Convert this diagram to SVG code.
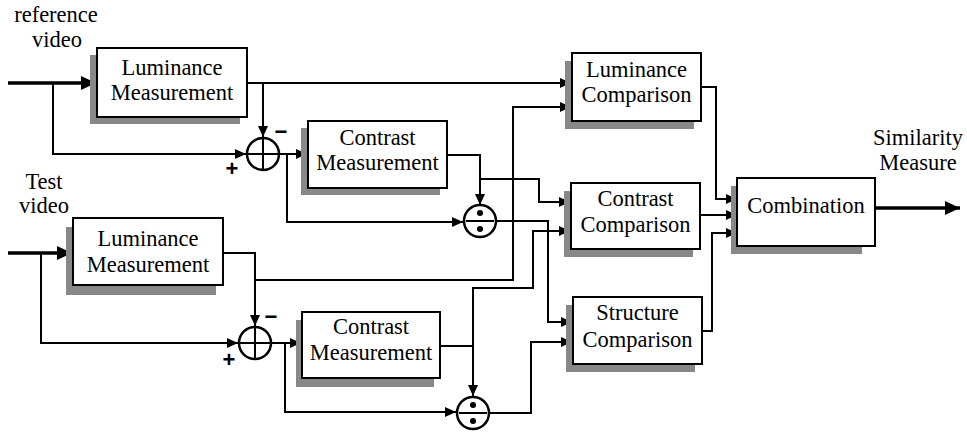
<svg xmlns="http://www.w3.org/2000/svg" width="967" height="432" viewBox="0 0 967 432">
<style>
.box{fill:#fff;stroke:#000;stroke-width:2}
.sh{fill:#888}
.t{font-family:"Liberation Serif","Times New Roman",serif;font-size:22.5px;text-anchor:middle;fill:#000}
.w{fill:none;stroke:#000;stroke-width:2}
.th{fill:none;stroke:#000;stroke-width:3.5}
.c{fill:#fff;stroke:#000;stroke-width:2.5}
.sg{font-family:"Liberation Sans",Arial,sans-serif;font-size:22px;font-weight:bold;text-anchor:middle;fill:#000}
</style>
<defs>
<marker id="a" markerUnits="userSpaceOnUse" markerWidth="12" markerHeight="12" refX="11" refY="6" orient="auto">
<path d="M0,1 L11,6 L0,11 Z" fill="#000"/>
</marker>
<marker id="b" markerUnits="userSpaceOnUse" markerWidth="16" markerHeight="16" refX="15" refY="8" orient="auto">
<path d="M0,1 L15,8 L0,15 Z" fill="#000"/>
</marker>
</defs>
<rect width="967" height="432" fill="#fff"/>

<g id="labels">
<text class="t" x="56" y="22">reference</text>
<text class="t" x="57" y="47">video</text>
<text class="t" x="44" y="189">Test</text>
<text class="t" x="44" y="213">video</text>
<text class="t" x="918" y="145">Similarity</text>
<text class="t" x="918" y="170">Measure</text>
</g>

<g id="connectors">
<path class="th" d="M8,83 H96" marker-end="url(#b)"/>
<path class="w" d="M53,83 V154 H246" marker-end="url(#a)"/>
<path class="w" d="M247,83 H571" marker-end="url(#a)"/>
<path class="w" d="M263,83 V137" marker-end="url(#a)"/>
<path class="w" d="M280,154 H307" marker-end="url(#a)"/>
<path class="w" d="M287,154 V222 H463" marker-end="url(#a)"/>
<path class="w" d="M447,155 H480 V205" marker-end="url(#a)"/>
<path class="w" d="M480,179 H539 V202 H570" marker-end="url(#a)"/>
<path class="w" d="M496,221 H548 V322 H572" marker-end="url(#a)"/>

<path class="th" d="M8,253 H72" marker-end="url(#b)"/>
<path class="w" d="M41,253 V343 H238" marker-end="url(#a)"/>
<path class="w" d="M223,253 H255 V326" marker-end="url(#a)"/>
<path class="w" d="M255,280 H513 V107 H571" marker-end="url(#a)"/>
<path class="w" d="M271,343 H301" marker-end="url(#a)"/>
<path class="w" d="M285,343 V412 H456" marker-end="url(#a)"/>
<path class="w" d="M440,346 H473 V396" marker-end="url(#a)"/>
<path class="w" d="M473,346 V288 H533 V231 H570" marker-end="url(#a)"/>
<path class="w" d="M489,413 H531 V342 H572" marker-end="url(#a)"/>

<path class="w" d="M701,87 H716 V199 H737" marker-end="url(#a)"/>
<path class="w" d="M700,215 H737" marker-end="url(#a)"/>
<path class="w" d="M702,331 H712 V233 H737" marker-end="url(#a)"/>
<path class="th" d="M875,208 H960" marker-end="url(#b)"/>
</g>

<g id="lum-ref">
<rect class="sh" x="90" y="55" width="150" height="69"/>
<rect class="box" x="97" y="48" width="150" height="69"/>
<text class="t" x="172" y="75">Luminance</text>
<text class="t" x="172" y="100">Measurement</text>
</g>
<g id="sum-ref">
<circle class="c" cx="263" cy="154" r="16"/>
<path class="w" d="M247,154 H279 M263,138 V170"/>
<text class="sg" x="281" y="139">−</text>
<text class="sg" x="232" y="176">+</text>
</g>
<g id="contrast-ref">
<rect class="sh" x="301" y="128" width="139" height="67"/>
<rect class="box" x="308" y="121" width="139" height="67"/>
<text class="t" x="377.5" y="145">Contrast</text>
<text class="t" x="377.5" y="170">Measurement</text>
</g>
<g id="div-ref">
<circle class="c" cx="480" cy="221" r="16"/>
<path class="w" d="M466,221 H494"/>
<circle cx="480" cy="213" r="3" fill="#000"/>
<circle cx="480" cy="229" r="3" fill="#000"/>
</g>

<g id="lum-test">
<rect class="sh" x="66" y="227" width="150" height="68"/>
<rect class="box" x="73" y="218" width="150" height="67"/>
<text class="t" x="148" y="246">Luminance</text>
<text class="t" x="148" y="272">Measurement</text>
</g>
<g id="sum-test">
<circle class="c" cx="255" cy="343" r="16"/>
<path class="w" d="M239,343 H271 M255,327 V359"/>
<text class="sg" x="271" y="324">−</text>
<text class="sg" x="229" y="367">+</text>
</g>
<g id="contrast-test">
<rect class="sh" x="296" y="320" width="138" height="67"/>
<rect class="box" x="302" y="312" width="138" height="66"/>
<text class="t" x="371" y="334">Contrast</text>
<text class="t" x="371" y="360">Measurement</text>
</g>
<g id="div-test">
<circle class="c" cx="473" cy="413" r="16"/>
<path class="w" d="M459,413 H487"/>
<circle cx="473" cy="405" r="3" fill="#000"/>
<circle cx="473" cy="421" r="3" fill="#000"/>
</g>

<g id="lum-comp">
<rect class="sh" x="565" y="61" width="129" height="68"/>
<rect class="box" x="572" y="53" width="129" height="68"/>
<text class="t" x="636.5" y="77">Luminance</text>
<text class="t" x="636.5" y="102">Comparison</text>
</g>
<g id="contrast-comp">
<rect class="sh" x="564" y="191" width="129" height="66"/>
<rect class="box" x="571" y="183" width="129" height="66"/>
<text class="t" x="635.5" y="206">Contrast</text>
<text class="t" x="635.5" y="232">Comparison</text>
</g>
<g id="structure-comp">
<rect class="sh" x="566" y="305" width="129" height="67"/>
<rect class="box" x="573" y="297" width="129" height="67"/>
<text class="t" x="637.5" y="320">Structure</text>
<text class="t" x="637.5" y="347">Comparison</text>
</g>
<g id="combination">
<rect class="sh" x="731" y="186" width="131" height="68"/>
<rect class="box" x="737" y="178" width="138" height="68"/>
<text class="t" x="806" y="213">Combination</text>
</g>
</svg>
